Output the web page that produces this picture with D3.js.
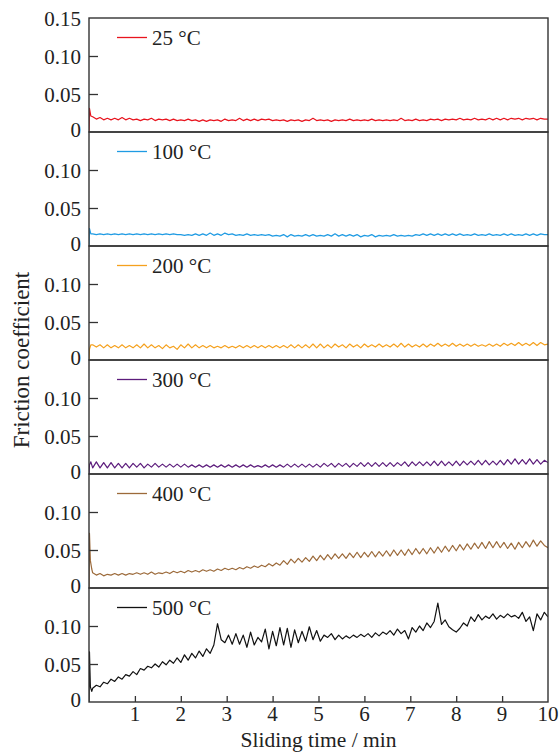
<!DOCTYPE html>
<html><head><meta charset="utf-8">
<script src="https://cdn.jsdelivr.net/npm/d3@7"></script>
<style>body{margin:0;background:#fff}svg{display:block}text{font-family:"Liberation Serif","Times New Roman",serif;fill:#222}</style>
</head><body><svg id="c" width="560" height="752"></svg>
<script>
// ---- data ----
const labels = ["25 °C","100 °C","200 °C","300 °C","400 °C","500 °C"];
const colors = ["#e8141e","#1f9be3","#f5a11e","#5c1c7c","#9c6a3a","#111111"];
const sampleStep = 0.08; // minutes between regular samples (t = 0.08 ... 10.0)
const head25  = [[0,0],[0.01,0.031],[0.04,0.021]];
const head100 = [[0,0],[0.01,0.023],[0.04,0.016]];
const head200 = [[0,0],[0.01,0.014],[0.04,0.020]];
const head300 = [[0,0],[0.01,0.012],[0.04,0.016]];
const head400 = [[0,0],[0.01,0.072],[0.03,0.036],[0.06,0.025]];
const head500 = [[0,0],[0.01,0.066],[0.03,0.020],[0.06,0.014]];
const mu25 = [.020,.017,.019,.016,.018,.016,.018,.016,.019,.016,
.018,.016,.017,.015,.017,.016,.018,.015,.017,.016,
.017,.015,.017,.015,.016,.015,.017,.015,.016,.014,
.016,.014,.016,.015,.016,.014,.017,.015,.016,.015,
.018,.015,.017,.015,.017,.015,.017,.016,.017,.015,
.016,.015,.016,.014,.016,.015,.016,.014,.016,.015,
.018,.015,.016,.015,.016,.014,.016,.015,.016,.015,
.017,.015,.016,.015,.016,.015,.017,.015,.016,.015,
.016,.015,.016,.015,.018,.015,.016,.015,.017,.015,
.016,.015,.017,.016,.017,.015,.017,.016,.017,.016,
.018,.016,.017,.016,.018,.016,.017,.016,.018,.016,
.018,.016,.018,.016,.018,.017,.018,.016,.018,.017,
.018,.016,.018,.017,.017];
const mu100 = [.016,.015,.016,.015,.016,.015,.016,.015,.016,.015,
.016,.015,.016,.015,.016,.015,.016,.015,.016,.015,
.016,.015,.016,.015,.015,.014,.015,.014,.016,.014,
.016,.014,.017,.014,.016,.014,.017,.015,.016,.014,
.015,.014,.016,.014,.015,.014,.015,.014,.015,.013,
.014,.013,.015,.012,.015,.013,.014,.013,.015,.013,
.015,.013,.014,.013,.015,.013,.016,.013,.015,.013,
.015,.013,.015,.012,.014,.013,.015,.012,.014,.013,
.014,.013,.015,.013,.014,.013,.014,.013,.015,.014,
.016,.014,.016,.014,.016,.014,.016,.014,.016,.014,
.016,.014,.015,.014,.016,.014,.015,.014,.016,.014,
.015,.014,.016,.014,.016,.014,.015,.014,.016,.014,
.016,.014,.016,.015,.015];
const mu200 = [.020,.017,.020,.016,.020,.016,.019,.016,.020,.016,
.019,.016,.020,.016,.021,.016,.020,.016,.019,.015,
.020,.016,.018,.014,.020,.016,.021,.016,.020,.016,
.019,.016,.019,.016,.018,.016,.019,.016,.018,.016,
.019,.016,.019,.016,.019,.016,.019,.016,.019,.016,
.019,.016,.019,.016,.020,.016,.020,.016,.020,.016,
.021,.016,.021,.016,.020,.016,.021,.017,.020,.016,
.021,.017,.020,.016,.021,.017,.020,.017,.021,.017,
.020,.017,.021,.017,.022,.017,.021,.017,.020,.017,
.021,.017,.021,.018,.022,.018,.021,.018,.022,.018,
.021,.018,.021,.018,.021,.018,.020,.018,.021,.018,
.021,.018,.022,.019,.022,.019,.023,.019,.022,.019,
.023,.019,.023,.020,.021];
const mu300 = [.008,.016,.008,.015,.008,.015,.008,.014,.008,.014,
.008,.014,.009,.014,.008,.013,.009,.014,.009,.013,
.009,.013,.009,.013,.009,.013,.009,.012,.009,.012,
.009,.012,.009,.012,.009,.012,.009,.012,.009,.012,
.009,.012,.009,.012,.009,.011,.009,.012,.009,.012,
.009,.012,.009,.013,.009,.013,.009,.013,.009,.013,
.009,.013,.009,.014,.010,.014,.009,.014,.010,.014,
.009,.014,.010,.015,.010,.015,.010,.015,.010,.015,
.010,.015,.010,.015,.011,.016,.010,.016,.011,.016,
.011,.016,.011,.017,.011,.017,.011,.016,.011,.017,
.011,.017,.012,.017,.012,.018,.012,.018,.012,.017,
.012,.018,.012,.019,.013,.020,.013,.019,.013,.020,
.013,.019,.013,.018,.015];
const mu400 = [.020,.017,.019,.016,.018,.017,.019,.017,.019,.017,
.019,.018,.020,.018,.020,.018,.021,.018,.020,.019,
.021,.019,.022,.020,.022,.020,.023,.021,.023,.021,
.024,.022,.024,.022,.025,.023,.026,.024,.026,.024,
.027,.025,.028,.026,.029,.027,.030,.028,.032,.029,
.033,.030,.036,.031,.038,.033,.039,.034,.040,.035,
.042,.036,.043,.037,.044,.038,.045,.039,.045,.039,
.046,.040,.047,.040,.047,.041,.048,.041,.048,.042,
.049,.042,.050,.043,.050,.043,.051,.044,.052,.045,
.052,.045,.053,.046,.054,.047,.055,.048,.056,.049,
.057,.050,.058,.051,.059,.052,.060,.052,.061,.053,
.061,.053,.060,.052,.059,.051,.060,.053,.061,.054,
.063,.055,.062,.056,.053];
const mu500 = [.018,.022,.020,.026,.024,.030,.027,.033,.030,.036,
.034,.040,.036,.044,.042,.047,.045,.050,.046,.053,
.049,.055,.051,.058,.052,.062,.055,.064,.058,.067,
.060,.070,.064,.075,.103,.082,.078,.088,.076,.090,
.076,.088,.072,.092,.075,.085,.079,.096,.070,.093,
.074,.098,.075,.097,.072,.095,.078,.093,.080,.099,
.082,.094,.080,.088,.085,.090,.082,.088,.083,.087,
.084,.088,.085,.089,.086,.090,.085,.091,.087,.092,
.089,.094,.088,.096,.090,.094,.083,.098,.092,.100,
.094,.104,.098,.106,.130,.102,.108,.099,.095,.092,
.097,.104,.100,.112,.106,.115,.108,.113,.110,.116,
.109,.114,.111,.116,.112,.114,.110,.118,.106,.112,
.094,.116,.108,.118,.112];
const heads = [head25,head100,head200,head300,head400,head500];
const series = [mu25,mu100,mu200,mu300,mu400,mu500];
const xTicks = [1,2,3,4,5,6,7,8,9,10];
const yTicks = [0,0.05,0.10,0.15];

// ---- layout ----
const FONT = "Liberation Serif, Times New Roman, serif";
const svg = d3.select("#c");
const L = 89, R = 548, T = 18, PH = 114;
const x = d3.scaleLinear().domain([0,10]).range([L,R]);
const axisColor = "#333";

series.forEach((vals,i)=>{
  const top = T + i*PH, bot = top + PH;
  const y = d3.scaleLinear().domain([0,0.15]).range([bot,top]);
  const g = svg.append("g");
  const clipId = "clip"+i;
  svg.append("clipPath").attr("id",clipId).append("rect")
     .attr("x",L).attr("y",top).attr("width",R-L).attr("height",PH);
  const pts = heads[i].concat(vals.map((v,k)=>[(k+1)*sampleStep, v]));
  g.append("path").datum(pts)
    .attr("clip-path",`url(#${clipId})`)
    .attr("fill","none").attr("stroke",colors[i]).attr("stroke-width",1.2)
    .attr("stroke-linejoin","round")
    .attr("d", d3.line().x(d=>x(d[0])).y(d=>y(d[1])));
  const ya = g.append("g").attr("transform",`translate(${L},0)`)
    .call(d3.axisRight(y).tickValues([0.05,0.10]).tickSize(9).tickFormat(""));
  ya.select(".domain").remove();
  ya.selectAll("line").attr("stroke",axisColor).attr("stroke-width",1.3);
  const lab = i===0 ? yTicks : yTicks.slice(0,3);
  g.selectAll("text.yl").data(lab).join("text")
    .attr("font-family",FONT)
    .attr("x",81).attr("y",d=> d===0 ? y(d)-2 : y(d)+1)
    .attr("text-anchor","end").attr("dominant-baseline","central")
    .attr("font-size",21).text(d=> d===0 ? "0" : d3.format(".2f")(d));
  g.append("rect").attr("x",L).attr("y",top).attr("width",R-L).attr("height",PH)
    .attr("fill","none").attr("stroke",axisColor).attr("stroke-width",1.4);
  g.append("line").attr("x1",117).attr("x2",147).attr("y1",top+19.5).attr("y2",top+19.5)
    .attr("stroke",colors[i]).attr("stroke-width",1.3);
  g.append("text").attr("font-family",FONT).attr("x",152).attr("y",top+27)
    .attr("font-size",21).text(labels[i]);
});

const bottom = T + 6*PH;
const xa = svg.append("g").attr("transform",`translate(0,${bottom})`)
  .call(d3.axisTop(x).tickValues(xTicks.filter(d=>d<10)).tickSize(6).tickFormat(""));
xa.select(".domain").remove();
xa.selectAll("line").attr("stroke",axisColor).attr("stroke-width",1.3);
svg.selectAll("text.xl").data(xTicks).join("text")
  .attr("font-family",FONT)
  .attr("x",d=>x(d)).attr("y",bottom+19).attr("text-anchor","middle")
  .attr("font-size",21).text(d=>d);

svg.append("text").attr("font-family",FONT).attr("x",(L+R)/2).attr("y",747).attr("text-anchor","middle")
  .attr("font-size",21.5).text("Sliding time / min");
svg.append("text").attr("font-family",FONT).attr("transform",`translate(29,${T+3*PH}) rotate(-90)`)
  .attr("text-anchor","middle").attr("font-size",23).text("Friction coefficient");
</script></body></html>
